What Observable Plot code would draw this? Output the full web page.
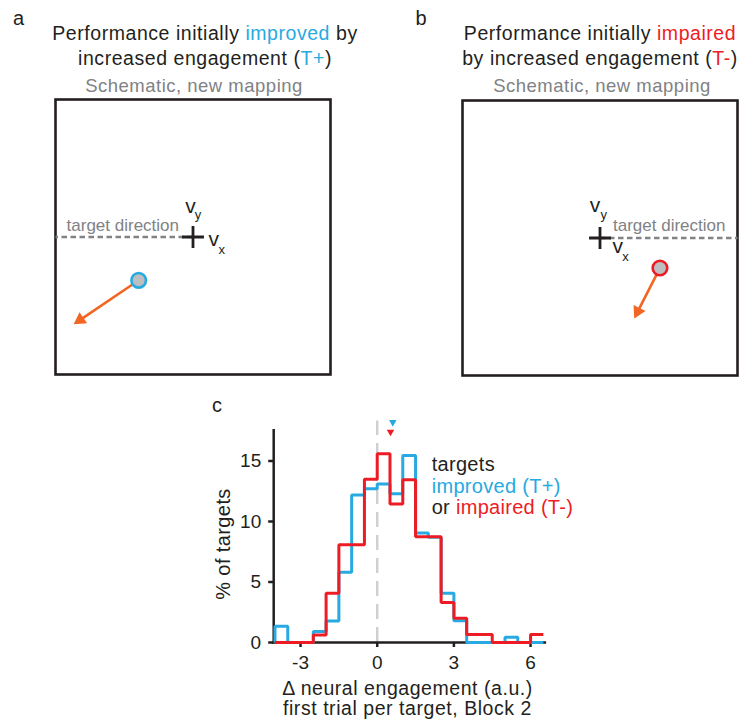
<!DOCTYPE html>
<html><head><meta charset="utf-8">
<script src="https://cdn.jsdelivr.net/npm/d3@7"></script>
<script src="https://cdn.jsdelivr.net/npm/@observablehq/plot@0.6"></script>
<style>
html,body{margin:0;padding:0;background:#fff;overflow:hidden;}
#root{position:relative;width:743px;height:725px;font-family:"Liberation Sans",Arial,Helvetica,sans-serif;color:#231f20;overflow:hidden;}
.t{position:absolute;white-space:nowrap;}
.c{transform:translateX(-50%);}
.p{position:absolute;}
</style></head><body><div id="root"></div>
<script>
// ---------- data ----------
const panelLetters = ["a", "b", "c"];
const titleLines = [
  ["Performance initially |improved| by", "increased engagement (|T+|)"],
  ["Performance initially |impaired|", "by increased engagement (|T-|)"]
];
const subtitle = "Schematic, new mapping";
const targetLabel = "target direction";

// schematic velocity space, cross (v_x, v_y origin) at 0,0; box spans -1..1
const cursorX = [-0.395, 0.436];
const cursorY = [-0.315, -0.218];
const velTipX = [-0.868, 0.249];
const velTipY = [-0.635, -0.585];
const targetDirEnd = [-1, 1];

// histogram (panel c)
const binEdges = [-4, -3.5, -3, -2.5, -2, -1.5, -1, -0.5, 0, 0.5, 1, 1.5, 2, 2.5, 3, 3.5, 4, 4.5, 5, 5.5, 6, 6.5];
const pctImproved = [1.35, 0, 0, 0.9, 1.78, 5.8, 12.2, 12.7, 13.1, 12.3, 15.45, 9.05, 8.7, 4.08, 1.8, 0, 0, 0, 0.43, 0, 0];
const pctImpaired = [0, 0, 0, 0.63, 4.07, 8.08, 8.08, 13.5, 15.6, 11.45, 13.45, 8.75, 8.75, 3.3, 2.0, 0.67, 0.67, 0, 0, 0, 0.67];
const medianX = [0.61, 0.52];      // improved, impaired
const medianMarkY = [18.2, 17.4];
const zeroLine = [0];
const xTicks = [-3, 0, 3, 6];
const yTicks = [0, 5, 10, 15];
const xDomain = [-4.05, 6.58];
const yDomain = [0, 17.5];
const legendLines = ["targets", "|improved (T+)|", "or |impaired (T-)|"];
const xLabelLines = ["\u0394 neural engagement (a.u.)", "first trial per target, Block 2"];
const yLabel = "% of targets";

// ---------- styles ----------
const FONT = '"Liberation Sans", Arial, Helvetica, sans-serif';
const ink = "#231f20", blue = "#27aae1", red = "#ed1c24", orange = "#f26522", gray = "#808285";
const highlight = [blue, red];

const root = document.getElementById("root");
function colored(str, col) {
  return str.split("|").map((s, k) => k % 2 ? `<span style="color:${col}">${s}</span>` : s).join("");
}
function addText(html, left, top, css) {
  const d = document.createElement("div");
  d.className = "t";
  d.innerHTML = html;
  d.style.left = left + "px";
  d.style.top = top + "px";
  Object.assign(d.style, css || {});
  root.appendChild(d);
  return d;
}
function addSvg(svg, left, top) {
  svg.classList.add("p");
  svg.style.left = left + "px";
  svg.style.top = top + "px";
  root.appendChild(svg);
}

// ---------- titles ----------
const titleCx = [205, 600];
const subCx = [194, 602];
const titleCss = {fontSize: "19.5px", lineHeight: "24px", letterSpacing: "0.55px"};
[0, 1].forEach(i => {
  const l1 = addText(colored(titleLines[i][0], highlight[i]), titleCx[i], 21.2, titleCss); l1.classList.add("c");
  const l2 = addText(colored(titleLines[i][1], highlight[i]), titleCx[i], 46.2, titleCss); l2.classList.add("c");
  const s = addText(subtitle, subCx[i], 73.6, {fontSize: "18.5px", lineHeight: "24px", letterSpacing: "0.5px", color: gray}); s.classList.add("c");
});
addText(panelLetters[0], 13, 6, {fontSize: "20px", lineHeight: "24px"});
addText(panelLetters[1], 415.5, 6, {fontSize: "20px", lineHeight: "24px"});
addText(panelLetters[2], 212, 393, {fontSize: "20px", lineHeight: "24px"});

// ---------- schematics ----------
const PX = 137.5;             // pixels per schematic unit (box 275px / 2 units)
const HEAD_R = 5;             // arrowhead triangle size
const headApex = Math.sqrt(Math.PI * HEAD_R * HEAD_R / (Math.sqrt(3) * 3)) * 2; // centroid→apex, px
function schematic(i) {
  const left = i === 0;
  const col = highlight[i];
  const o = [{x: 0, y: 0}];
  const lab = (txt, size, dx, dy, fill) => Plot.text(o, {x: "x", y: "y", text: () => txt, fontSize: size, dx, dy, lineAnchor: "bottom", textAnchor: "middle", fill: fill || ink});
  const vOff = left
    ? {vy: [-2.6, -24.3], sy: [5, -18], vx: [20.7, 9], sx: [28.7, 17]}
    : {vy: [-5, -25.6], sy: [3.7, -19.3], vx: [17.7, 15.4], sx: [25.5, 22.7]};
  // direction of the velocity arrow (screen coordinates)
  const sx = (velTipX[i] - cursorX[i]) * PX, sy = -(velTipY[i] - cursorY[i]) * PX;
  const len = Math.hypot(sx, sy);
  const angle = Math.atan2(sx, -sy) * 180 / Math.PI;
  const headX = velTipX[i] - (sx / len) * headApex / PX;
  const headY = velTipY[i] + (sy / len) * headApex / PX;
  return Plot.plot({
    width: 295, height: 295, margin: 10,
    x: {domain: [-1, 1], axis: null},
    y: {domain: [-1, 1], axis: null},
    style: {fontFamily: FONT, background: "transparent", overflow: "visible"},
    marks: [
      Plot.frame({stroke: ink, strokeWidth: 2.6}),
      Plot.link([{x1: 0, x2: targetDirEnd[i], y: 0}], {x1: "x1", x2: "x2", y1: "y", y2: "y", stroke: gray, strokeWidth: 2.4, strokeDasharray: "5.5,3.5"}),
      Plot.text(o, {x: "x", y: "y", text: () => targetLabel, fontSize: 17, letterSpacing: 0.3, textAnchor: left ? "end" : "start", dx: left ? -14 : 13, dy: left ? -6 : -7, lineAnchor: "bottom", fill: gray}),
      Plot.dot(o, {x: "x", y: "y", symbol: "plus", r: 7.1, stroke: ink, strokeWidth: 2.8}),
      lab("v", 21, vOff.vy[0], vOff.vy[1]),
      lab("y", 13, vOff.sy[0], vOff.sy[1]),
      lab("v", 21, vOff.vx[0], vOff.vx[1]),
      lab("x", 13, vOff.sx[0], vOff.sx[1]),
      Plot.arrow([i], {x1: d => cursorX[d], y1: d => cursorY[d], x2: d => velTipX[d], y2: d => velTipY[d], stroke: orange, strokeWidth: 2.6, headLength: 0, insetStart: 8, insetEnd: 7}),
      Plot.dot([i], {x: () => headX, y: () => headY, symbol: "triangle", r: HEAD_R, rotate: angle, fill: orange, stroke: null}),
      Plot.dot([i], {x: d => cursorX[d], y: d => cursorY[d], r: 7.3, fill: "#bcbec0", stroke: col, strokeWidth: 2.6})
    ]
  });
}
addSvg(schematic(0), 45, 89);
addSvg(schematic(1), 452, 90);

// ---------- histogram ----------
function steps(vals) {
  const pts = [{x: binEdges[0], y: 0}];
  vals.forEach((v, k) => pts.push({x: binEdges[k], y: v}));
  pts.push({x: binEdges[binEdges.length - 1], y: vals[vals.length - 1]});
  return pts;
}
const hist = Plot.plot({
  width: 360, height: 290,
  marginLeft: 73.2, marginRight: 15.1, marginTop: 35.25, marginBottom: 43,
  x: {domain: xDomain},
  y: {domain: yDomain},
  style: {fontFamily: FONT, fontSize: "19px", color: ink, background: "transparent", overflow: "visible"},
  marks: [
    Plot.ruleX(zeroLine, {y1: 0, y2: 18.3, stroke: "#cfd0d2", strokeWidth: 2.5, strokeDasharray: "15,8"}),
    Plot.ruleY([yDomain[0]], {stroke: ink, strokeWidth: 2.5, strokeLinecap: "square"}),
    Plot.ruleX([xDomain[0]], {stroke: ink, strokeWidth: 2.5, strokeLinecap: "square"}),
    Plot.axisX({ticks: xTicks, tickFormat: d => String(d), tickSize: 5, tickPadding: 8, strokeWidth: 2.5, label: null}),
    Plot.axisY({ticks: yTicks, tickSize: 5, tickPadding: 7.5, strokeWidth: 2.5, label: null}),
    Plot.line(steps(pctImproved), {x: "x", y: "y", curve: "step-after", stroke: blue, strokeWidth: 3, strokeLinejoin: "miter", strokeLinecap: "butt"}),
    Plot.line(steps(pctImpaired), {x: "x", y: "y", curve: "step-after", stroke: red, strokeWidth: 3, strokeLinejoin: "miter", strokeLinecap: "butt"}),
    Plot.dot([0], {x: d => medianX[d], y: d => medianMarkY[d], symbol: "triangle", rotate: 180, r: 2.8, fill: blue}),
    Plot.dot([1], {x: d => medianX[d], y: d => medianMarkY[d], symbol: "triangle", rotate: 180, r: 2.8, fill: red})
  ]
});
addSvg(hist, 200, 395);

// axis labels & legend
addText(yLabel, 223, 544, {fontSize: "20px", lineHeight: "24px", letterSpacing: "0.4px", transform: "translate(-50%,-50%) rotate(-90deg)"});
const xl = addText(xLabelLines.join("<br>"), 407.5, 678.2, {fontSize: "19.5px", lineHeight: "20px", letterSpacing: "0.55px", textAlign: "center"});
xl.classList.add("c");
addText(legendLines.map((s, k) => colored(s, k === 1 ? blue : red)).join("<br>"), 431.7, 454.3, {fontSize: "20px", lineHeight: "21.5px", letterSpacing: "0.3px"});
</script></body></html>
